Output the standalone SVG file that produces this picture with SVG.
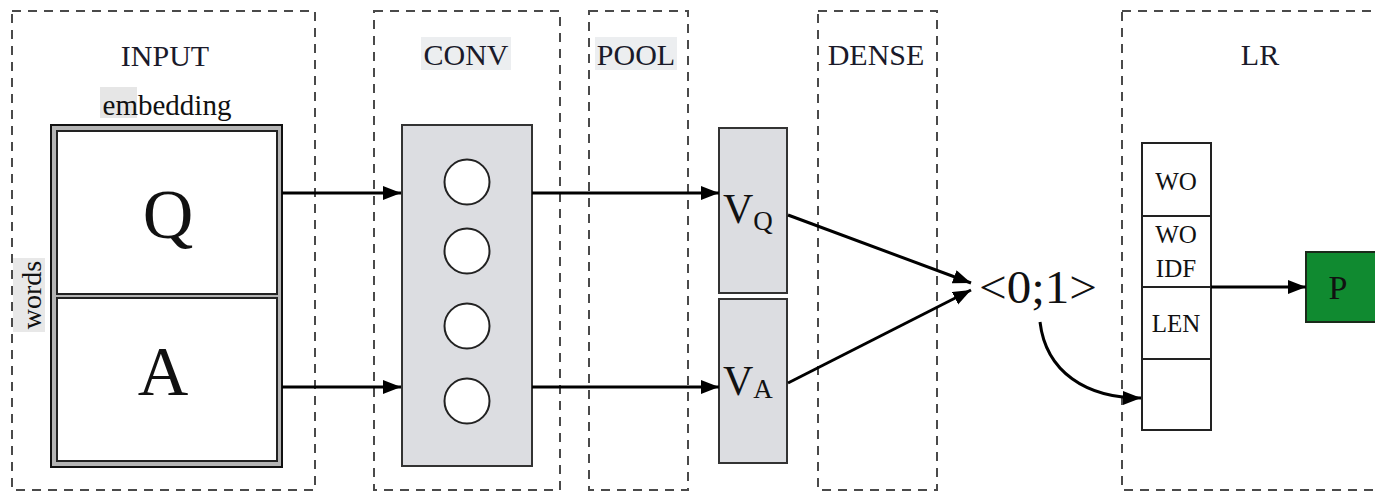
<svg xmlns="http://www.w3.org/2000/svg" width="1375" height="492" viewBox="0 0 1375 492">
<defs>
<style>
text{font-family:"Liberation Serif","Times New Roman","DejaVu Serif",serif}
.zone{fill:none;stroke:#4a4a4a;stroke-width:2;stroke-dasharray:9 7}
.title{font-size:30px;fill:#1a1a2a;text-anchor:middle}
.hl{fill:#eceef0}
.lbl{fill:#111;text-anchor:middle}
.cell{fill:#fff;stroke:#222;stroke-width:2}
.gray{fill:#dcdde1;stroke:#333;stroke-width:2}
.conn{fill:none;stroke:#000;stroke-width:3;marker-end:url(#ah)}
</style>
<marker id="ah" markerUnits="userSpaceOnUse" markerWidth="20" markerHeight="16" refX="18" refY="7" orient="auto">
<path d="M0,0 L18,7 L0,14 z" fill="#000"/>
</marker>
</defs>
<rect width="1375" height="492" fill="#fff"/>

<g id="zones">
<rect class="zone" x="12" y="11" width="303" height="479"/>
<rect class="zone" x="374" y="11" width="186" height="479"/>
<rect class="zone" x="589" y="11" width="99" height="479"/>
<rect class="zone" x="818" y="11" width="119" height="479"/>
<rect class="zone" x="1122" y="11" width="270" height="479"/>
</g>

<g id="titles">
<text class="title" x="165" y="66">INPUT</text>
<rect class="hl" x="421" y="37" width="90" height="33"/>
<text class="title" x="466" y="65">CONV</text>
<rect class="hl" x="595" y="37" width="82" height="33"/>
<text class="title" x="636" y="65">POOL</text>
<text class="title" x="876" y="65">DENSE</text>
<text class="title" x="1260" y="65">LR</text>
</g>

<g id="input">
<rect x="100" y="87" width="37" height="31" fill="#e6e6e6"/>
<text class="lbl" x="167" y="115" font-size="29" fill="#222">embedding</text>
<rect x="13" y="258" width="32" height="74" fill="#e8e8e8"/>
<text class="lbl" transform="translate(41,295) rotate(-90)" font-size="28" fill="#333">words</text>
<rect x="51" y="125" width="231" height="342" fill="#b4b4b4" stroke="#111" stroke-width="2"/>
<rect id="Q" class="cell" x="57" y="131" width="220" height="163"/>
<rect id="A" class="cell" x="57" y="298" width="220" height="163"/>
<text class="lbl" x="168" y="238" font-size="70">Q</text>
<text class="lbl" x="163" y="395" font-size="70">A</text>
</g>

<g id="conv">
<rect class="gray" x="402" y="125" width="130" height="341"/>
<circle cx="467" cy="182" r="22.5" fill="#fff" stroke="#222" stroke-width="2"/>
<circle cx="467" cy="251" r="22.5" fill="#fff" stroke="#222" stroke-width="2"/>
<circle cx="467" cy="326" r="22.5" fill="#fff" stroke="#222" stroke-width="2"/>
<circle cx="467" cy="401" r="22.5" fill="#fff" stroke="#222" stroke-width="2"/>
</g>

<g id="vq">
<rect class="gray" x="719" y="128" width="68" height="165"/>
<text fill="#111" x="723" y="223" font-size="42">V<tspan font-size="27" dy="7">Q</tspan></text>
</g>
<g id="va">
<rect class="gray" x="719" y="299" width="68" height="164"/>
<text fill="#111" x="723" y="395" font-size="42">V<tspan font-size="27" dy="3">A</tspan></text>
</g>

<g id="out">
<text fill="#111" x="979" y="303" font-size="46" textLength="118" lengthAdjust="spacingAndGlyphs">&lt;0;1&gt;</text>
</g>

<g id="lr">
<rect class="cell" x="1142" y="143" width="69" height="287"/>
<line x1="1142" y1="216" x2="1211" y2="216" stroke="#222" stroke-width="2"/>
<line x1="1142" y1="287" x2="1211" y2="287" stroke="#222" stroke-width="2"/>
<line x1="1142" y1="359" x2="1211" y2="359" stroke="#222" stroke-width="2"/>
<text class="lbl" x="1176" y="190" font-size="25">WO</text>
<text class="lbl" x="1176" y="243" font-size="25">WO</text>
<text class="lbl" x="1176" y="277" font-size="25">IDF</text>
<text class="lbl" x="1176" y="332" font-size="25">LEN</text>
</g>

<g id="p">
<rect x="1306" y="252" width="80" height="70" fill="#108a30" stroke="#1a2a1a" stroke-width="2"/>
<text class="lbl" x="1338" y="299" font-size="34">P</text>
</g>

<g id="connectors">
<line class="conn" x1="282" y1="193" x2="401" y2="193"/>
<line class="conn" x1="282" y1="387" x2="401" y2="387"/>
<line class="conn" x1="532" y1="193" x2="719" y2="193"/>
<line class="conn" x1="532" y1="387" x2="719" y2="387"/>
<line class="conn" x1="788" y1="215" x2="971" y2="283"/>
<line class="conn" x1="788" y1="383" x2="971" y2="290"/>
<path class="conn" d="M1040,322 C1046,372 1086,398 1141,398"/>
<line class="conn" x1="1211" y1="287" x2="1306" y2="287"/>
</g>
</svg>
